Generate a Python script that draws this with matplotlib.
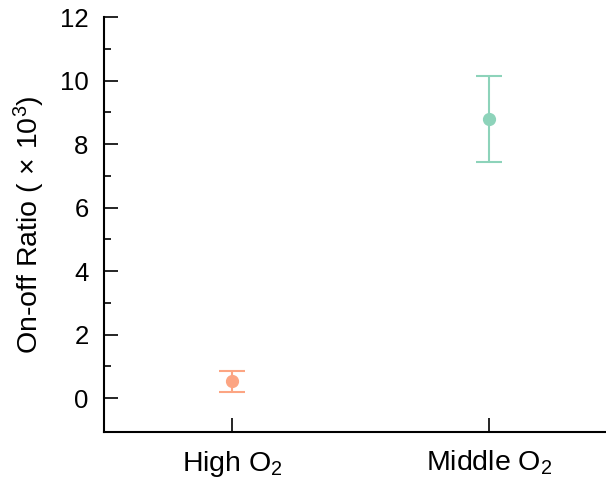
import matplotlib
matplotlib.use('Agg')
from matplotlib import pyplot as plt
from matplotlib.transforms import ScaledTranslation

# data
groups = ['High O$_2$', 'Middle O$_2$']
means = [0.52, 8.78]
errs = [0.34, 1.36]
colors = ['#FCA583', '#8DD3BA']
yticks = [0, 2, 4, 6, 8, 10, 12]
yminor = [1, 3, 5, 7, 9, 11]

plt.rcParams['font.family'] = ['Liberation Sans', 'DejaVu Sans']
plt.rcParams['mathtext.fontset'] = 'custom'
plt.rcParams['mathtext.rm'] = 'Liberation Sans'
plt.rcParams['mathtext.it'] = 'Liberation Sans:italic'

fig = plt.figure(figsize=(6.06, 4.88), dpi=100)
ax = fig.add_axes([0.1716, 0.1148, 0.83, 0.8503])

for i in range(len(groups)):
    ax.errorbar(i, means[i], yerr=errs[i], fmt='o', color=colors[i],
                ms=8.5, elinewidth=1.5, capsize=9.5, capthick=1.5, zorder=3)

ax.set_xlim(-0.5, 1.46)
ax.set_ylim(-1.07, 12)
ax.set_xticks(range(len(groups)))
ax.set_xticklabels(groups, fontsize=20.5)
ax.set_yticks(yticks)
ax.set_yticks(yminor, minor=True)
ax.set_ylabel(r'On-off Ratio ($\,\times\,$10$^3$)', fontsize=20.5, labelpad=9)

# labels sit a little left of the ticks in the original
shift = ScaledTranslation(-8 / 72, 0, fig.dpi_scale_trans)
for lab in ax.get_xticklabels():
    lab.set_transform(lab.get_transform() + shift)

for s in ['top', 'right']:
    ax.spines[s].set_visible(False)
for s in ['left', 'bottom']:
    ax.spines[s].set_linewidth(1.5)

ax.tick_params(axis='both', which='major', direction='in', length=10, width=1.2)
ax.tick_params(axis='y', which='major', labelsize=18.5, pad=11)
ax.tick_params(axis='x', which='major', pad=12)
ax.tick_params(axis='y', which='minor', direction='in', length=5, width=1.2)

fig.savefig('out.png', dpi=100)
